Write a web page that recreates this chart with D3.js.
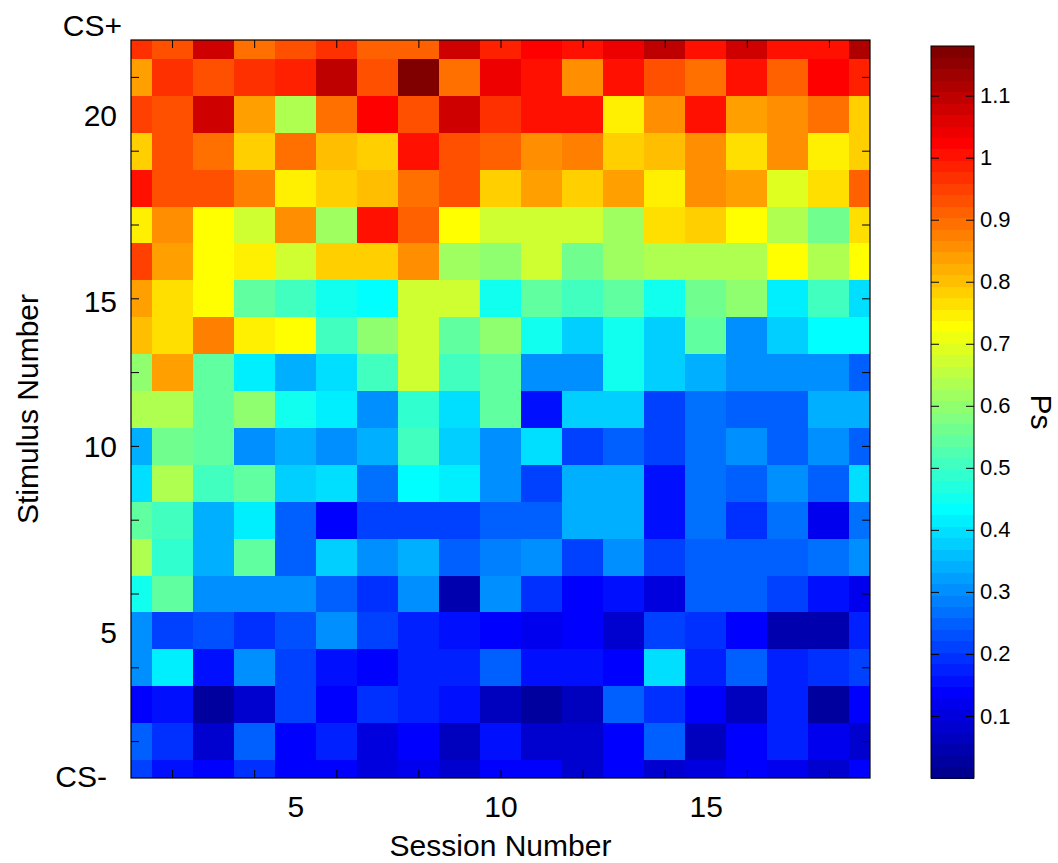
<!DOCTYPE html>
<html>
<head>
<meta charset="utf-8">
<script src="https://cdn.jsdelivr.net/npm/d3@7"></script>
<style>
body { margin: 0; background: #fff; }
text { font-family: "Liberation Sans", Arial, sans-serif; fill: #000; }
.axis path { display: none; }
.axis line { stroke: #000; stroke-width: 1; }
</style>
</head>
<body>
<svg id="chart" width="1058" height="863"></svg>
<script>
// Ps per stimulus (rows, CS- = 1 ... CS+ = 21), one value per session 1..19
var ps21 = [0.96, 0.94, 1.07, 0.885, 0.94, 0.96, 0.92, 0.92, 1.07, 0.98, 1.03, 1.0, 1.05, 1.09, 1.01, 1.07, 1.0, 1.01, 1.12];
var ps20 = [0.84, 0.96, 0.94, 0.96, 0.98, 1.09, 0.94, 1.18, 0.885, 1.05, 1.01, 0.85, 1.0, 0.94, 0.90, 1.01, 0.92, 1.03, 0.98];
var ps19 = [0.95, 0.94, 1.07, 0.83, 0.645, 0.90, 1.03, 0.94, 1.07, 0.96, 1.01, 1.0, 0.75, 0.85, 1.0, 0.83, 0.865, 0.90, 0.79];
var ps18 = [0.785, 0.94, 0.90, 0.79, 0.885, 0.81, 0.79, 1.0, 0.94, 0.92, 0.85, 0.87, 0.79, 0.81, 0.85, 0.76, 0.85, 0.74, 0.775];
var ps17 = [1.0, 0.94, 0.94, 0.87, 0.75, 0.79, 0.81, 0.90, 0.94, 0.79, 0.83, 0.79, 0.83, 0.74, 0.85, 0.84, 0.70, 0.76, 0.92];
var ps16 = [0.74, 0.865, 0.72, 0.665, 0.85, 0.61, 1.0, 0.92, 0.72, 0.665, 0.665, 0.665, 0.61, 0.76, 0.775, 0.72, 0.63, 0.57, 0.76];
var ps15 = [0.95, 0.83, 0.72, 0.75, 0.665, 0.79, 0.775, 0.865, 0.61, 0.59, 0.68, 0.57, 0.61, 0.645, 0.645, 0.645, 0.72, 0.645, 0.72];
var ps14 = [0.83, 0.76, 0.72, 0.535, 0.516, 0.46, 0.44, 0.68, 0.68, 0.46, 0.553, 0.50, 0.535, 0.46, 0.57, 0.59, 0.42, 0.50, 0.39];
var ps13 = [0.80, 0.76, 0.87, 0.74, 0.72, 0.516, 0.59, 0.68, 0.535, 0.59, 0.46, 0.37, 0.46, 0.37, 0.535, 0.31, 0.37, 0.44, 0.44];
var ps12 = [0.59, 0.83, 0.553, 0.42, 0.35, 0.405, 0.50, 0.68, 0.50, 0.535, 0.31, 0.295, 0.46, 0.37, 0.35, 0.295, 0.295, 0.30, 0.258];
var ps11 = [0.627, 0.627, 0.553, 0.59, 0.46, 0.42, 0.295, 0.48, 0.39, 0.535, 0.165, 0.37, 0.37, 0.22, 0.275, 0.258, 0.24, 0.332, 0.35];
var ps10 = [0.35, 0.57, 0.535, 0.295, 0.35, 0.295, 0.332, 0.516, 0.37, 0.295, 0.39, 0.22, 0.258, 0.22, 0.275, 0.295, 0.258, 0.31, 0.258];
var ps9  = [0.405, 0.645, 0.50, 0.535, 0.37, 0.405, 0.275, 0.44, 0.42, 0.31, 0.22, 0.35, 0.332, 0.165, 0.275, 0.24, 0.31, 0.24, 0.39];
var ps8  = [0.535, 0.50, 0.332, 0.42, 0.258, 0.145, 0.22, 0.22, 0.22, 0.24, 0.258, 0.332, 0.35, 0.165, 0.275, 0.20, 0.275, 0.12, 0.275];
var ps7  = [0.645, 0.48, 0.332, 0.535, 0.258, 0.37, 0.31, 0.332, 0.258, 0.29, 0.31, 0.22, 0.295, 0.22, 0.258, 0.258, 0.24, 0.275, 0.31];
var ps6  = [0.46, 0.535, 0.295, 0.295, 0.31, 0.258, 0.20, 0.31, 0.037, 0.295, 0.20, 0.145, 0.155, 0.093, 0.24, 0.24, 0.22, 0.165, 0.12];
var ps5  = [0.30, 0.22, 0.23, 0.20, 0.23, 0.295, 0.21, 0.175, 0.165, 0.13, 0.12, 0.135, 0.074, 0.22, 0.19, 0.145, 0.04, 0.04, 0.18];
var ps4  = [0.295, 0.42, 0.165, 0.295, 0.22, 0.155, 0.145, 0.18, 0.18, 0.258, 0.165, 0.165, 0.145, 0.39, 0.175, 0.24, 0.18, 0.20, 0.22];
var ps3  = [0.14, 0.165, 0.02, 0.08, 0.22, 0.14, 0.20, 0.175, 0.155, 0.056, 0.02, 0.056, 0.24, 0.20, 0.135, 0.056, 0.18, 0.02, 0.145];
var ps2  = [0.258, 0.20, 0.08, 0.258, 0.145, 0.175, 0.10, 0.13, 0.056, 0.155, 0.08, 0.08, 0.13, 0.24, 0.056, 0.13, 0.175, 0.12, 0.074];
var ps1  = [0.22, 0.165, 0.145, 0.19, 0.145, 0.13, 0.10, 0.12, 0.09, 0.135, 0.13, 0.09, 0.13, 0.08, 0.10, 0.135, 0.12, 0.074, 0.135];

var psRows = [ps1, ps2, ps3, ps4, ps5, ps6, ps7, ps8, ps9, ps10, ps11, ps12, ps13, ps14, ps15, ps16, ps17, ps18, ps19, ps20, ps21];

var sessions = d3.range(1, 20);
var stimuli = d3.range(1, 22);

var xTicks = [2, 4, 6, 8, 10, 12, 14, 16, 18];
var xTickLabels = [5, 10, 15];
var yTicks = [2, 4, 6, 8, 10, 12, 14, 16, 18, 20];
var yLabelText = ["CS-", "5", "10", "15", "20", "CS+"];
var yLabelAt = [1.03, 4.93, 9.97, 13.9, 18.94, 21.39];
var cbTicks = [0.1, 0.2, 0.3, 0.4, 0.5, 0.6, 0.7, 0.8, 0.9, 1, 1.1];
var cRange = [0, 1.18];

// MATLAB jet(64), k = 1..64
function jet64(k) {
  function u(j) {
    if (j < 1 || j > 47) return 0;
    if (j <= 16) return j / 16;
    if (j <= 31) return 1;
    return (48 - j) / 16;
  }
  return d3.rgb(255 * u(k - 24), 255 * u(k - 8), 255 * u(k + 8)).toString();
}

function colorOf(v) {
  var k = Math.floor((v - cRange[0]) / (cRange[1] - cRange[0]) * 64) + 1;
  return jet64(Math.max(1, Math.min(64, k)));
}

var svg = d3.select("#chart");

var plotL = 131, plotR = 870, plotT = 40, plotB = 778;

var x = d3.scaleLinear().domain([1, 19]).range([plotL, plotR]);
var y = d3.scaleLinear().domain([1, 21]).range([plotB, plotT]);

svg.append("clipPath").attr("id", "plotclip")
  .append("rect")
    .attr("x", plotL).attr("y", plotT)
    .attr("width", plotR - plotL).attr("height", plotB - plotT);

var cells = [];
stimuli.forEach(function(s, i) {
  sessions.forEach(function(c, j) {
    cells.push({session: c, stimulus: s, value: psRows[i][j]});
  });
});

svg.append("g")
    .attr("clip-path", "url(#plotclip)")
    .attr("shape-rendering", "crispEdges")
  .selectAll("rect")
  .data(cells)
  .enter().append("rect")
    .attr("x", function(d) { return x(d.session - 0.5); })
    .attr("y", function(d) { return y(d.stimulus + 0.5); })
    .attr("width", function(d) { return x(d.session + 0.5) - x(d.session - 0.5) + 0.5; })
    .attr("height", function(d) { return y(d.stimulus - 0.5) - y(d.stimulus + 0.5) + 0.5; })
    .attr("fill", function(d) { return colorOf(d.value); });

// tick marks (inward, all four sides)
svg.append("g").attr("class", "axis")
    .attr("transform", "translate(0," + plotB + ")")
    .call(d3.axisBottom(x).tickValues(xTicks).tickSize(-8).tickFormat(""));
svg.append("g").attr("class", "axis")
    .attr("transform", "translate(0," + plotT + ")")
    .call(d3.axisTop(x).tickValues(xTicks).tickSize(-8).tickFormat(""));
svg.append("g").attr("class", "axis")
    .attr("transform", "translate(" + plotL + ",0)")
    .call(d3.axisLeft(y).tickValues(yTicks).tickSize(-8).tickFormat(""));
svg.append("g").attr("class", "axis")
    .attr("transform", "translate(" + plotR + ",0)")
    .call(d3.axisRight(y).tickValues(yTicks).tickSize(-8).tickFormat(""));

svg.append("rect")
    .attr("x", plotL).attr("y", plotT)
    .attr("width", plotR - plotL).attr("height", plotB - plotT)
    .attr("fill", "none").attr("stroke", "#000").attr("stroke-width", 1.2);

// tick labels
var xl = svg.append("g").attr("class", "axis")
    .attr("transform", "translate(0," + plotB + ")")
    .call(d3.axisBottom(x).tickValues(xTickLabels).tickSize(0).tickPadding(18));
xl.selectAll("text").style("font-size", "30px");

var yl = svg.append("g").attr("class", "axis")
    .attr("transform", "translate(" + plotL + ",0)")
    .call(d3.axisLeft(y).tickValues(yLabelAt).tickSize(0).tickPadding(14)
      .tickFormat(function(d, i) { return yLabelText[i]; }));
yl.selectAll("text")
    .style("font-size", "30px")
    .attr("dx", function(d, i) {
      var t = yLabelText[i];
      return t === "CS+" ? 5 : (t === "CS-" ? -10 : 0);
    });

svg.append("text")
    .attr("x", (plotL + plotR) / 2).attr("y", 856)
    .attr("text-anchor", "middle")
    .style("font-size", "30px")
    .text("Session Number");

svg.append("text")
    .attr("transform", "translate(38," + (plotT + plotB) / 2 + ")rotate(-90)")
    .attr("text-anchor", "middle")
    .style("font-size", "30px")
    .text("Stimulus Number");

// colour bar
var cbL = 931, cbR = 974, cbT = 46, cbB = 778;
var cb = d3.scaleLinear().domain(cRange).range([cbB, cbT]);
var step = (cRange[1] - cRange[0]) / 64;

svg.append("g")
    .attr("shape-rendering", "crispEdges")
  .selectAll("rect")
  .data(d3.range(1, 65))
  .enter().append("rect")
    .attr("x", cbL)
    .attr("y", function(k) { return cb(cRange[0] + k * step); })
    .attr("width", cbR - cbL)
    .attr("height", function(k) { return cb(cRange[0] + (k - 1) * step) - cb(cRange[0] + k * step) + 0.5; })
    .attr("fill", function(k) { return jet64(k); });

svg.append("g").attr("class", "axis")
    .attr("transform", "translate(" + cbL + ",0)")
    .call(d3.axisLeft(cb).tickValues(cbTicks).tickSize(-8).tickFormat(""));
var cbAxis = svg.append("g").attr("class", "axis")
    .attr("transform", "translate(" + cbR + ",0)")
    .call(d3.axisRight(cb).tickValues(cbTicks).tickSize(-8).tickPadding(6).tickFormat(d3.format("")));
cbAxis.selectAll("text").style("font-size", "22px");

svg.append("rect")
    .attr("x", cbL).attr("y", cbT)
    .attr("width", cbR - cbL).attr("height", cbB - cbT)
    .attr("fill", "none").attr("stroke", "#000").attr("stroke-width", 1);

svg.append("text")
    .attr("transform", "translate(1031," + (cbT + cbB) / 2 + ")rotate(90)")
    .attr("text-anchor", "middle")
    .style("font-size", "30px")
    .text("Ps");
</script>
</body>
</html>
